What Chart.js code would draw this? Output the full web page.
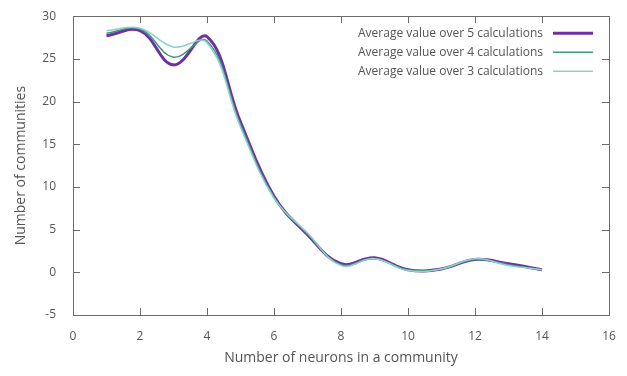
<!DOCTYPE html>
<html>
<head>
<meta charset="utf-8">
<script src="https://cdn.jsdelivr.net/npm/chart.js@4.4.1/dist/chart.umd.min.js"></script>
<style>
  html, body { margin: 0; padding: 0; background: #fff; }
  #wrap { width: 627px; height: 376px; position: relative; }
</style>
</head>
<body>
<div id="wrap"><canvas id="c" width="627" height="376"></canvas></div>
<script>
// Community size (number of neurons)
const neurons = [1, 2, 3, 4, 5, 6, 7, 8, 9, 10, 11, 12, 13, 14];

// Average number of communities for each community size
const avg5 = [27.7, 28.3, 24.3, 27.6, 17.6, 8.9, 4.4, 1.0, 1.7, 0.3, 0.4, 1.5, 1.0, 0.3];
const avg4 = [28.0, 28.5, 25.2, 27.1, 17.3, 8.8, 4.5, 0.9, 1.6, 0.3, 0.4, 1.5, 0.9, 0.3];
const avg3 = [28.3, 28.6, 26.4, 26.9, 17.0, 8.7, 4.6, 0.8, 1.6, 0.2, 0.4, 1.6, 0.8, 0.3];

const seriesLabels = [
  'Average value over 5 calculations',
  'Average value over 4 calculations',
  'Average value over 3 calculations'
];

// Axis ranges and tick steps
const xTicks = [0, 2, 4, 6, 8, 10, 12, 14, 16];
const yTicks = [-5, 0, 5, 10, 15, 20, 25, 30];

const toPoints = ys => neurons.map((x, i) => ({ x: x, y: ys[i] }));

const FONT = '"Open Sans", "Noto Sans", sans-serif';
const INK = '#555555';

// Frame around the plot with inward, mirrored tick marks
const framePlugin = {
  id: 'frame',
  afterDraw(chart) {
    const { ctx, chartArea: a, scales } = chart;
    const len = 7;
    ctx.save();
    ctx.strokeStyle = '#6b6b6b';
    ctx.lineWidth = 1;
    ctx.beginPath();
    xTicks.forEach(v => {
      const px = Math.round(scales.x.getPixelForValue(v)) + 0.5;
      if (v !== xTicks[0] && v !== xTicks[xTicks.length - 1]) {
        ctx.moveTo(px, a.bottom); ctx.lineTo(px, a.bottom - len);
        ctx.moveTo(px, a.top); ctx.lineTo(px, a.top + len);
      }
    });
    yTicks.forEach(v => {
      const py = Math.round(scales.y.getPixelForValue(v)) + 0.5;
      if (v !== yTicks[0] && v !== yTicks[yTicks.length - 1]) {
        ctx.moveTo(a.left, py); ctx.lineTo(a.left + len, py);
        ctx.moveTo(a.right, py); ctx.lineTo(a.right - len, py);
      }
    });
    ctx.stroke();
    ctx.strokeRect(Math.round(a.left) + 0.5, Math.round(a.top) + 0.5,
                   Math.round(a.right - a.left), Math.round(a.bottom - a.top));
    ctx.restore();
  }
};

// Key in the upper right: right-aligned text followed by a line sample
const keyPlugin = {
  id: 'key',
  afterDraw(chart) {
    const { ctx, chartArea: a } = chart;
    const textRight = a.right - 66;
    const sampleL = a.right - 56;
    const sampleR = a.right - 16;
    ctx.save();
    ctx.font = '12px ' + FONT;
    ctx.textAlign = 'right';
    ctx.textBaseline = 'middle';
    chart.data.datasets.forEach((ds, i) => {
      const y = a.top + 17 + i * 19;
      ctx.fillStyle = INK;
      ctx.fillText(ds.label, textRight, y);
      ctx.strokeStyle = ds.borderColor;
      ctx.lineWidth = ds.borderWidth;
      ctx.beginPath();
      ctx.moveTo(sampleL, y);
      ctx.lineTo(sampleR, y);
      ctx.stroke();
    });
    ctx.restore();
  }
};

new Chart(document.getElementById('c'), {
  type: 'line',
  data: {
    datasets: [
      { label: seriesLabels[0], data: toPoints(avg5), borderColor: '#7030a0', borderWidth: 3, order: 2 },
      { label: seriesLabels[1], data: toPoints(avg4), borderColor: '#3e9a7c', borderWidth: 1.5, order: 1 },
      { label: seriesLabels[2], data: toPoints(avg3), borderColor: '#8fd0cf', borderWidth: 1.5, order: 0 }
    ]
  },
  options: {
    responsive: false,
    animation: false,
    layout: { padding: { top: 13, right: 18, left: 0, bottom: 0 } },
    elements: {
      point: { radius: 0 },
      line: { tension: 0.4, fill: false }
    },
    plugins: {
      legend: { display: false },
      tooltip: { enabled: false }
    },
    scales: {
      x: {
        type: 'linear',
        min: 0, max: 16,
        afterFit: s => { s.height = 61; },
        afterBuildTicks: s => { s.ticks = xTicks.map(v => ({ value: v })); },
        grid: { display: false },
        border: { display: false },
        ticks: { color: INK, font: { family: FONT, size: 12 }, padding: 6, maxRotation: 0 },
        title: {
          display: true,
          text: 'Number of neurons in a community',
          color: INK,
          font: { family: FONT, size: 14 },
          padding: { top: 0, bottom: 10 }
        }
      },
      y: {
        type: 'linear',
        min: -5, max: 30,
        afterFit: s => { s.width = 73; },
        afterBuildTicks: s => { s.ticks = yTicks.map(v => ({ value: v })); },
        grid: { display: false },
        border: { display: false },
        ticks: { color: INK, font: { family: FONT, size: 12 }, padding: 9 },
        title: {
          display: true,
          text: 'Number of communities',
          color: INK,
          font: { family: FONT, size: 14 },
          padding: { top: 13, bottom: 0 }
        }
      }
    }
  },
  plugins: [framePlugin, keyPlugin]
});
</script>
</body>
</html>
